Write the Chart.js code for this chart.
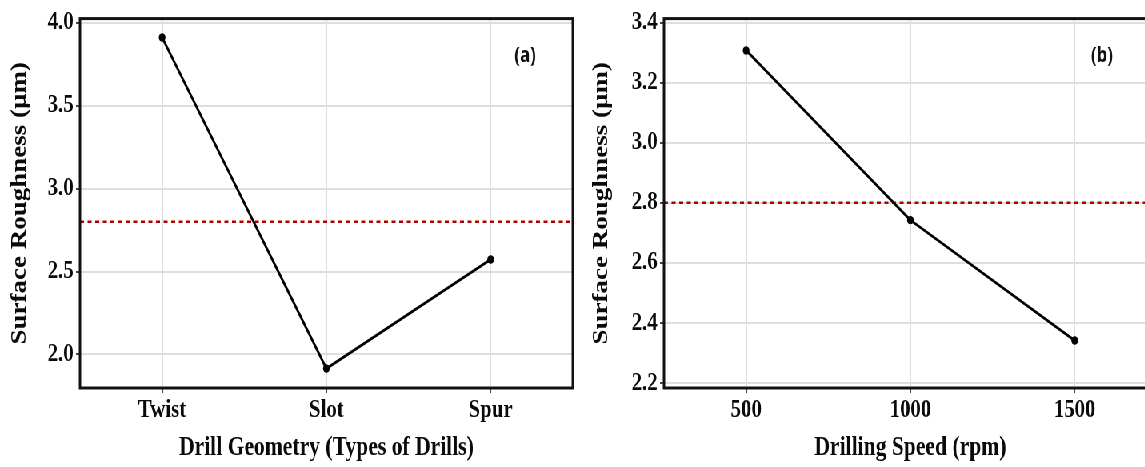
<!DOCTYPE html>
<html>
<head>
<meta charset="utf-8">
<script src="https://cdn.jsdelivr.net/npm/chart.js@4"></script>
<style>
  html, body { margin:0; padding:0; background:#fff; width:1145px; height:467px; overflow:hidden; }
  #wrap { position:absolute; left:0; top:0; width:1480px; height:467px; transform:scaleX(0.8); transform-origin:0 0; }
  canvas { position:absolute; top:0; }
</style>
</head>
<body>
<div id="wrap">
  <canvas id="chartA" width="740" height="467" style="left:0px"></canvas>
  <canvas id="chartB" width="740" height="467" style="left:730px"></canvas>
</div>
<script>
// ---- data ----
const categoriesA = ['Twist', 'Slot', 'Spur'];
const roughnessA = [3.91, 1.915, 2.572];
const yTicksA = [2.0, 2.5, 3.0, 3.5, 4.0];
const meanA = [2.80];

const speedsB = [500, 1000, 1500];
const roughnessB = [3.307, 2.742, 2.341];
const xTicksB = [500, 1000, 1500];
const yTicksB = [2.2, 2.4, 2.6, 2.8, 3.0, 3.2, 3.4];
const meanB = [2.80];

const xTitleA = 'Drill Geometry (Types of Drills)';
const xTitleB = 'Drilling Speed (rpm)';
const yTitle = 'Surface Roughness (µm)';
const panelLabels = ['(a)', '(b)'];

// ---- styling ----
const serif = '"Liberation Serif", "Times New Roman", serif';
const gridColor = '#dedede';
const textColor = '#0a0a0a';

const panelPlugin = {
  id: 'panel',
  beforeDatasetsDraw(chart, args, opts) {
    const { ctx, chartArea } = chart;
    const y = chart.scales.y.getPixelForValue(opts.refY);
    ctx.save();
    ctx.strokeStyle = '#b00000';
    ctx.lineWidth = 2.4;
    ctx.setLineDash([5, 4.5]);
    ctx.beginPath();
    ctx.moveTo(chartArea.left, y);
    ctx.lineTo(chartArea.right, y);
    ctx.stroke();
    ctx.restore();
  },
  afterDatasetsDraw(chart, args, opts) {
    const { ctx, chartArea } = chart;
    ctx.save();
    ctx.strokeStyle = '#111';
    ctx.lineWidth = 3;
    ctx.strokeRect(chartArea.left, chartArea.top, chartArea.right - chartArea.left, chartArea.bottom - chartArea.top);
    const lx = chart.scales.x.getPixelForValue(opts.labelX);
    const ly = chart.scales.y.getPixelForValue(opts.labelY);
    ctx.fillStyle = '#111';
    ctx.font = 'bold 21px "Open Sans", "Noto Sans", sans-serif';
    ctx.textAlign = 'center';
    ctx.textBaseline = 'middle';
    ctx.fillText(opts.label, lx, ly);
    ctx.restore();
  }
};

function yScale(min, max, ticks, titlePad) {
  return {
    type: 'linear',
    min: min, max: max,
    afterBuildTicks: s => { s.ticks = ticks.map(v => ({ value: v })); },
    afterFit: s => { s.width = 100; },
    ticks: {
      color: textColor,
      padding: 3,
      font: { family: serif, weight: 'bold', size: 26 },
      callback: v => Number(v).toFixed(1)
    },
    grid: { color: gridColor, lineWidth: 2, tickLength: 5, tickColor: '#333', tickWidth: 1.8 },
    border: { display: false },
    title: {
      display: true, text: yTitle, color: textColor,
      font: { family: serif, weight: 'bold', size: 27 },
      padding: { top: titlePad, bottom: 0 }
    }
  };
}

function xCommon(title) {
  return {
    afterFit: s => { s.height = 79; },
    ticks: {
      color: textColor,
      padding: 2,
      maxRotation: 0,
      font: { family: serif, weight: 'bold', size: 26 }
    },
    grid: { color: gridColor, lineWidth: 2, tickLength: 5, tickColor: '#333', tickWidth: 1.8, offset: false },
    border: { display: false },
    title: {
      display: true, text: title, color: textColor,
      font: { family: serif, weight: 'bold', size: 27 },
      padding: { top: 0, bottom: 3 }
    }
  };
}

const lineStyle = {
  borderColor: '#000',
  backgroundColor: '#000',
  borderWidth: 2.8,
  pointRadius: 4.2,
  pointBackgroundColor: '#000',
  pointBorderColor: '#000',
  pointBorderWidth: 0,
  tension: 0,
  fill: false
};

const common = {
  responsive: false,
  animation: false,
  devicePixelRatio: 1,
  layout: { padding: { top: 12.7, right: 24, bottom: 0, left: 0 } },
  events: []
};

// Panel (a)
const xA = xCommon(xTitleA);
xA.type = 'category';
xA.offset = true;
new Chart(document.getElementById('chartA'), {
  type: 'line',
  data: {
    labels: categoriesA,
    datasets: [Object.assign({ data: roughnessA }, lineStyle)]
  },
  options: Object.assign({}, common, {
    scales: { x: xA, y: yScale(1.798, 4.024, yTicksA, 9) },
    plugins: {
      legend: { display: false }, tooltip: { enabled: false },
      panel: { refY: meanA[0], label: panelLabels[0], labelX: 2.21, labelY: 3.80 }
    }
  }),
  plugins: [panelPlugin]
});

// Panel (b)
const xB = xCommon(xTitleB);
xB.type = 'linear';
xB.min = 250; xB.max = 1750;
xB.afterBuildTicks = s => { s.ticks = xTicksB.map(v => ({ value: v })); };
xB.ticks.callback = v => String(v);
new Chart(document.getElementById('chartB'), {
  type: 'line',
  data: {
    datasets: [Object.assign({ data: speedsB.map((s, i) => ({ x: s, y: roughnessB[i] })) }, lineStyle)]
  },
  options: Object.assign({}, common, {
    scales: { x: xB, y: yScale(2.183, 3.413, yTicksB, 6) },
    plugins: {
      legend: { display: false }, tooltip: { enabled: false },
      panel: { refY: meanB[0], label: panelLabels[1], labelX: 1583, labelY: 3.29 }
    }
  }),
  plugins: [panelPlugin]
});
</script>
</body>
</html>
